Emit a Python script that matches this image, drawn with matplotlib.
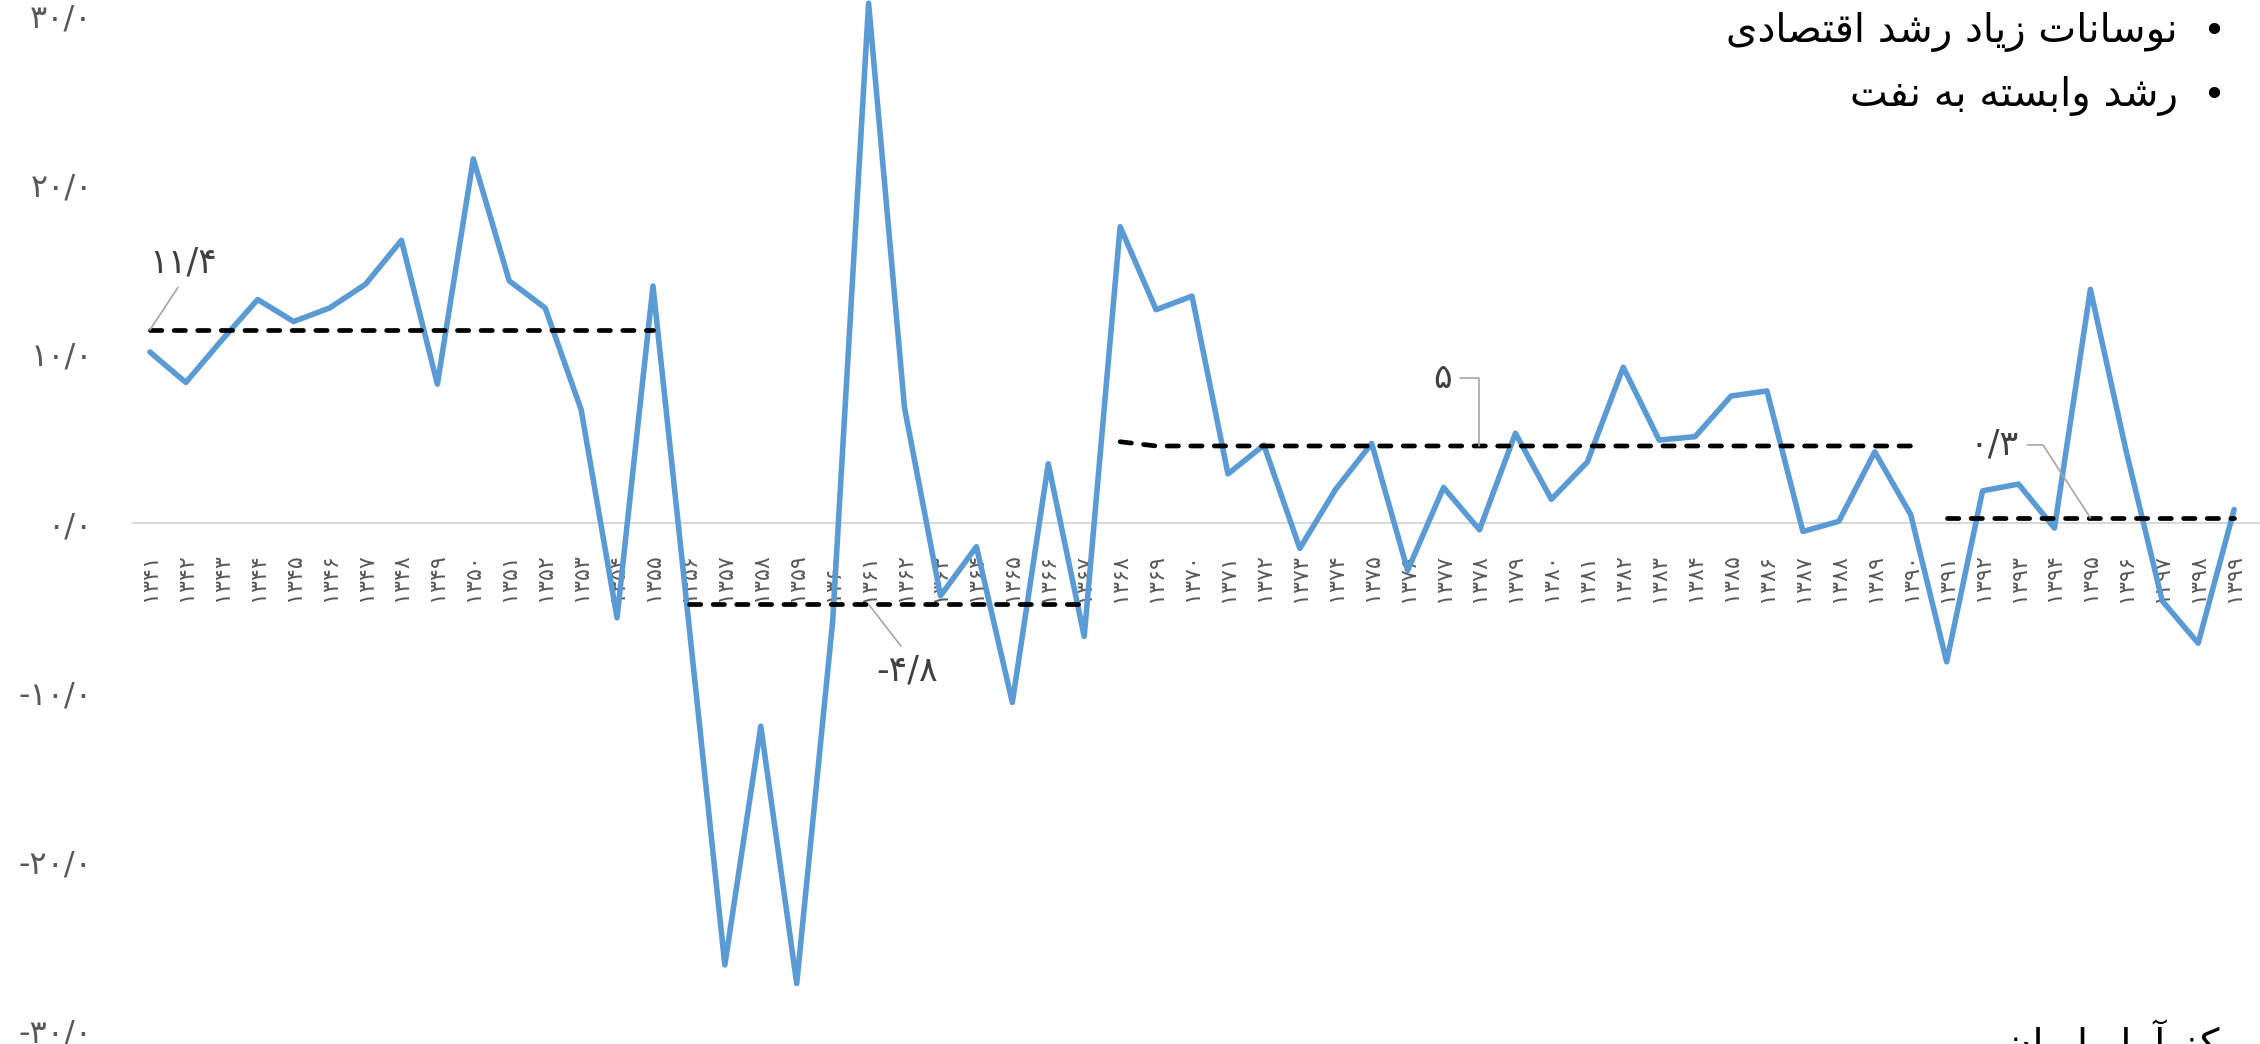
import matplotlib
matplotlib.use("Agg")
import matplotlib.pyplot as plt

plt.rcParams["font.family"] = ["DejaVu Sans"]

# economic growth (%) by Persian year
years = list(range(1341, 1400))
growth = [10.1, 8.3, 10.8, 13.2, 11.9, 12.7, 14.1, 16.7, 8.2, 21.5,
          14.3, 12.7, 6.7, -5.6, 14.0, -6.0, -26.1, -12.0, -27.2, -5.8,
          30.7, 6.8, -4.3, -1.4, -10.6, 3.5, -6.7, 17.5, 12.6, 13.4,
          2.9, 4.6, -1.5, 2.0, 4.7, -2.8, 2.1, -0.4, 5.3, 1.4,
          3.6, 9.2, 4.9, 5.1, 7.5, 7.8, -0.5, 0.1, 4.2, 0.5,
          -8.2, 1.9, 2.3, -0.3, 13.8, 4.2, -4.6, -7.1, 0.8]

# period averages (dashed)
avg_years = [[1341, 1355], [1356, 1367], [1368, 1369, 1390], [1391, 1399]]
avg_values = [[11.4, 11.4], [-4.8, -4.8], [4.8, 4.55, 4.55], [0.3, 0.3]]
avg_labels = ["11.4", "-4.8", "5", "0.3"]
avg_label_year = [1341, 1361, 1378, 1395]

y_ticks = [-30, -20, -10, 0, 10, 20, 30]

bullets = ["نوسانات زیاد رشد اقتصادی", "رشد وابسته به نفت"]
source = "منبع: مرکز آمار ایران"

# --- tiny persian helpers (no shaping engine in matplotlib) ---
FA_DIGITS = str.maketrans("0123456789.", "۰۱۲۳۴۵۶۷۸۹/")


def fa(s):
    return str(s).translate(FA_DIGITS)


FORMS = {
    "ا": "\ufe8d\ufe8e", "آ": "\ufe81\ufe82", "د": "\ufea9\ufeaa",
    "ر": "\ufead\ufeae", "ز": "\ufeaf\ufeb0", "و": "\ufeed\ufeee",
    "ب": "\ufe8f\ufe90\ufe91\ufe92", "ت": "\ufe95\ufe96\ufe97\ufe98",
    "س": "\ufeb1\ufeb2\ufeb3\ufeb4", "ش": "\ufeb5\ufeb6\ufeb7\ufeb8",
    "ص": "\ufeb9\ufeba\ufebb\ufebc", "ع": "\ufec9\ufeca\ufecb\ufecc",
    "ف": "\ufed1\ufed2\ufed3\ufed4", "ق": "\ufed5\ufed6\ufed7\ufed8",
    "ک": "\ufed9\ufeda\ufedb\ufedc", "م": "\ufee1\ufee2\ufee3\ufee4",
    "ن": "\ufee5\ufee6\ufee7\ufee8", "ه": "\ufee9\ufeea\ufeeb\ufeec",
    "ی": "\ufeef\ufef0\ufef3\ufef4",
}


def shape(text):
    out = []
    for i, ch in enumerate(text):
        f = FORMS.get(ch)
        if f is None:
            out.append(ch)
            continue
        prev = text[i - 1] if i > 0 else ""
        nxt = text[i + 1] if i + 1 < len(text) else ""
        jp = prev in FORMS and len(FORMS[prev]) == 4
        jn = len(f) == 4 and nxt in FORMS
        idx = 3 if (jp and jn) else 1 if jp else 2 if jn else 0
        out.append(f[idx])
    return "".join(reversed(out))


W, H = 2260, 1044
fig = plt.figure(figsize=(W / 100, H / 100), dpi=100)
ax = fig.add_axes([133 / W, 0, 1 - 133 / W, 1])
ax.set_xlim(1340.53, 1399.72)
ax.set_ylim(-30.77, 30.89)

ax.plot(years, growth, color="#5B9BD5", lw=4.0,
        solid_joinstyle="round", solid_capstyle="round", zorder=3)

for xs, vs in zip(avg_years, avg_values):
    ax.plot(xs, vs, color="black", lw=3.4, linestyle=(0, (2.4, 2.6)),
            dash_capstyle="round", zorder=4)

# value labels with leader lines
offsets = [(33, 67), (38, -66), (-37, 68), (-96, 73)]
relpos = [(0.5, 0), (0.5, 1), (1, 0.5), (1, 0.5)]
conn = ["arc3", "arc3", "angle,angleA=0,angleB=90,rad=0",
        "angle,angleA=0,angleB=-57,rad=0"]
for i, lab in enumerate(avg_labels):
    seg_y = avg_values[i][-1]
    ax.annotate(fa(lab), xy=(avg_label_year[i], seg_y), xytext=offsets[i],
                textcoords="offset pixels", ha="center", va="center",
                fontsize=25, color="#404040", zorder=5,
                arrowprops=dict(arrowstyle="-", color="#A6A6A6", lw=1.2,
                                shrinkA=4, shrinkB=0, relpos=relpos[i],
                                connectionstyle=conn[i]))

for s in ["top", "left", "right"]:
    ax.spines[s].set_visible(False)
ax.spines["bottom"].set_position(("data", 0))
ax.spines["bottom"].set_color("#D9D9D9")
ax.spines["bottom"].set_linewidth(1.5)

ax.set_xticks(years)
ax.set_xticklabels([fa(y) for y in years], rotation=90, fontsize=16,
                   color="#595959")
ax.tick_params(axis="x", length=0, pad=22)

ax.set_yticks(y_ticks)
ax.set_yticklabels([fa(f"{v:.1f}") for v in y_ticks], fontsize=23,
                   color="#595959")
ax.tick_params(axis="y", length=0, pad=29)

# bullet text on the right
for k, txt in enumerate(bullets):
    yy = 1 - (32 + 64 * k) / H
    fig.text(2178 / W, yy, shape(txt), ha="right", va="center", fontsize=29)
    fig.text(2214 / W, yy, "•", ha="center", va="center", fontsize=28)

# source line, cut off by the bottom edge as in the original
fig.text(2003 / W, -13 / H, shape(source), ha="left", va="baseline",
         fontsize=29)

fig.savefig("out.png", dpi=100)
